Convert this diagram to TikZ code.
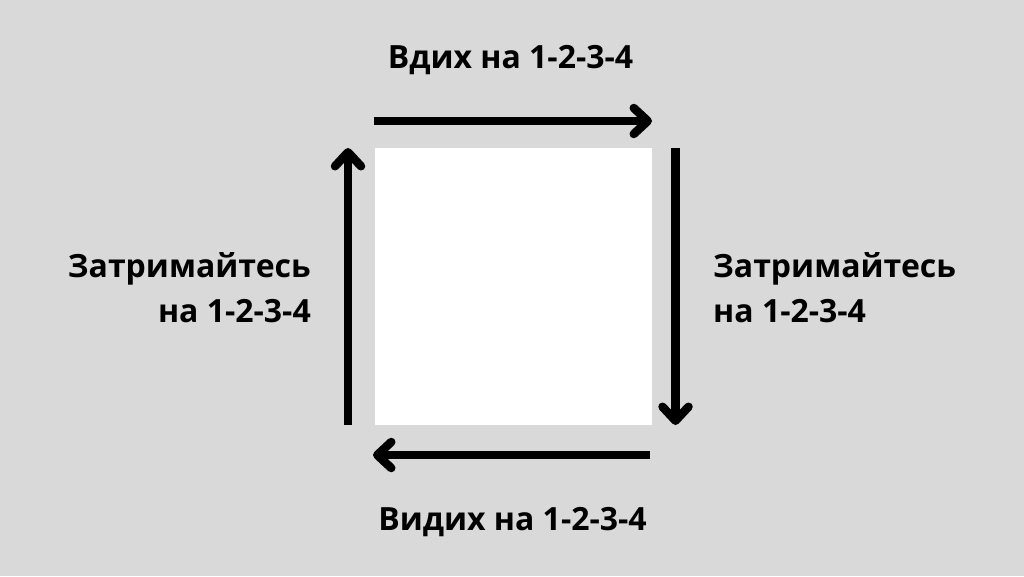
\documentclass[tikz,border=0pt]{standalone}
\usepackage{fontspec}
\setmainfont{Open Sans}
\usetikzlibrary{arrows.meta}
\definecolor{bggray}{HTML}{D9D9D9}

\begin{document}
\begin{tikzpicture}[
		x=1pt, y=-1pt,
		flow/.style={line width=8.5pt, -{Straight Barb[round,length=14pt,width=26pt]}},
		lbl/.style={font=\fontsize{32}{45}\selectfont\bfseries, inner sep=0pt},
		sq/.style={fill=white, minimum size=277pt, inner sep=0pt}]
	%% background
	\useasboundingbox[fill=bggray] (0,0) rectangle (1024,576);
	%% square
	\node (box) at (513.5,286.5) [sq] {};
	%% corner coordinates
	\coordinate (tl) at (374,121);
	\coordinate (tr) at (652,121);
	\coordinate (rt) at (675.5,148);
	\coordinate (rb) at (675.5,425);
	\coordinate (br) at (650,455);
	\coordinate (bl) at (373,455);
	\coordinate (lb) at (348,425);
	\coordinate (lt) at (348,148);
	%% define arrows
	\draw[flow] (tl) -- (tr);
	\draw[flow] (rt) -- (rb);
	\draw[flow] (br) -- (bl);
	\draw[flow] (lb) -- (lt);
	%% define labels
	\node (inhale) at (510.5,68) [lbl, anchor=base] {Вдих на 1-2-3-4};
	\node (exhale) at (512.5,530) [lbl, anchor=base] {Видих на 1-2-3-4};
	\node (holdl) at (311,322) [lbl, anchor=base east, align=right] {Затримайтесь\\на 1-2-3-4};
	\node (holdr) at (713,322) [lbl, anchor=base west, align=left] {Затримайтесь\\на 1-2-3-4};
\end{tikzpicture}
\end{document}
